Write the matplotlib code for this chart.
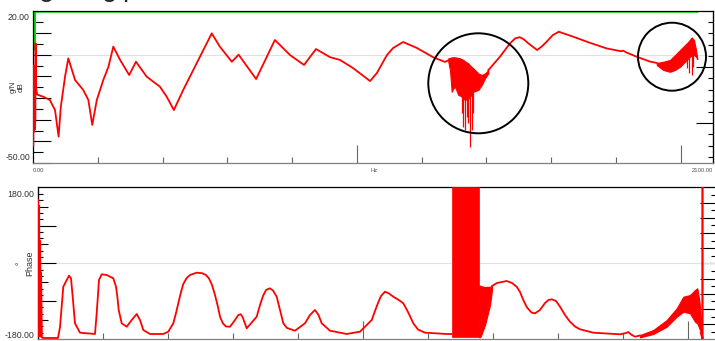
import numpy as np
import matplotlib
matplotlib.use('Agg')
import matplotlib.pyplot as plt
from matplotlib.patches import Ellipse

plt.rcParams['font.family'] = ['Liberation Sans', 'DejaVu Sans']

# ---------------- data ----------------
# magnitude (dB re g/N) vs frequency (Hz)
mag1_f = [1, 2, 3, 4, 5, 6, 7, 8, 9, 10, 13, 16, 32, 52, 68, 79, 86, 99, 109,
          130, 155, 171, 183, 197, 217, 233, 248, 269, 297, 318, 351, 392, 413,
          435, 464, 495, 521, 552, 577, 614, 635, 689, 747, 794, 837, 874, 917,
          948, 988, 1041, 1062, 1093, 1112, 1143, 1186, 1235, 1272, 1282.5]
mag1_db = [-44, -4, -37, -6, -36, -8, -32, 7, -10, -16, -18.5, -18.7, -19.6,
           -21.2, -26.2, -39.4, -24.5, -9.6, -0.5, -11.3, -16.2, -21.2, -33.6,
           -21.2, -11.3, -4.7, 5.3, -1.3, -8.8, -2.2, -9.6, -14.6, -19.6, -26.2,
           -16.2, -6.3, 2.0, 11.9, 5.3, -2.2, 1.3, -10.8, 8.6, 1.1, -3.8, 4.1,
           0.1, -1.3, -5.3, -11.8, -7.8, 1.1, 4.6, 7.6, 4.6, 0.1, -2.3, -1.5]

band1_f = [1282.5, 1287.8, 1293, 1298, 1303.2, 1313.4, 1318.7, 1323.9, 1328.9,
           1334.1, 1344.3, 1349.5, 1359.7, 1375.2, 1385.7, 1395.9, 1406.1]
band1_hi = [-0.5, -0.3, 0.0, 0.0, 0.0, -0.3, -0.5, -0.9, -1.3, -2.0, -3.0,
            -4.0, -5.5, -8.0, -8.8, -8.0, -6.3]
band1_lo = [-2.2, -6.3, -17.1, -15.5, -14.6, -18.7, -19.0, -19.6, -20.5,
            -21.2, -20.5, -19.6, -17.1, -16.2, -13.8, -10.4, -8.0]
spike1_f = [1323.9, 1328.9, 1334.1, 1339.3, 1344.3, 1349.5, 1354.7, 1359.7]
spike1_db = [-27.8, -34.5, -36.1, -29.5, -32.8, -44.4, -36.1, -27.8]

mag2_f = [1406.1, 1411, 1442, 1473, 1489, 1503, 1515, 1530, 1557, 1572, 1586,
          1605, 1624, 1669, 1720, 1772, 1816, 1823, 1830, 1864, 1905, 1926.1]
mag2_db = [-6.3, -5.5, 0.3, 6.9, 9.4, 10.0, 9.0, 6.9, 3.6, 5.5, 7.7, 11.0,
           12.7, 10.2, 7.2, 4.4, 3.0, 3.3, 2.6, 0.3, -2.1, -2.8]

band2_f = [1926.1, 1946.5, 1967.2, 1982.6, 1998.1, 2013.5, 2023.7, 2034.2,
           2041.3, 2047.5, 2051.5]
band2_hi = [-2.8, -2.2, -1.3, 1.1, 3.6, 6.1, 7.7, 9.9, 8.6, 3.6, -0.5]
band2_lo = [-3.8, -6.3, -7.2, -6.3, -4.7, -2.2, -0.5, 1.1, 1.1, 0.3, -0.9]
spike2_f = [2018.6, 2026.7, 2034.2, 2039.0]
spike2_db = [-5.5, -8.0, -8.8, -4.7]

coh_f = [1.5, 2.5, 4, 5.5, 7, 2052]
coh_db = [22.6, 3.6, 22.6, 3.6, 22.6, 22.6]

# phase (deg) vs frequency (Hz)
ph1_f = [0.5, 2, 3.5, 5, 6.5, 8, 9.5, 12, 15.4, 61.5, 67.7, 77.8, 83.1, 95.4,
         101.5, 107.7, 113.8, 129.2, 175.4, 180.6, 187.7, 196.0, 211.4, 231.7,
         240.0, 244.6, 248.3, 257.5, 272.9, 288.3, 303.7, 313.8, 324.0, 344.6,
         385.5, 400.9, 416.3, 424.6, 431.7, 440.0, 447.1, 457.5, 467.7, 488.3,
         504.6, 516.9, 526.2, 535.4, 544.6, 553.8, 560.0, 569.2, 578.5, 590.8,
         606.2, 616.3, 624, 630, 642.2, 672.9, 683.1, 692.3, 701.5, 713.8,
         723.1, 734.5, 744.6, 754.8, 766.2, 775.4, 790.8, 821.5, 836.9, 852.3,
         863.1, 872.9, 898.5, 949.8, 990.8, 1026.8, 1036.9, 1046.1, 1055.4,
         1067.7, 1080.0, 1093.2, 1107.7, 1124.0, 1138.5, 1154.8, 1169.2,
         1190.8, 1257.5, 1272.9]
ph1_deg = [165, -184, 150, -180, 60, -184, -20, -186, -187.6, -187.6, -160,
           -56.7, -48, -28.6, -35.2, -90.6, -150.1, -174.1, -177.4, -124.6,
           -39.6, -25.0, -26.8, -35.2, -56.7, -85.5, -116.1, -150.1, -158.8,
           -141.7, -126.4, -141.7, -167.2, -177.4, -177.4, -171.5, -150.1,
           -123.8, -99.0, -70.2, -49.8, -34.5, -26.8, -20.9, -22.2, -26.8,
           -35.7, -52.3, -77.9, -108.5, -133.3, -150.6, -158.3, -158.8, -141.7,
           -128.9, -127, -135, -162.9, -133.3, -103.4, -80.4, -65.1, -60.7,
           -66.4, -82.2, -116.1, -150.1, -162.1, -164.7, -169.0, -150.1,
           -128.9, -116.1, -128.9, -150.1, -169.0, -177.4, -171.5, -141.7,
           -118.7, -98.3, -80.4, -69.4, -74.0, -82.2, -89.3, -99.0, -121.3,
           -150.1, -165.9, -174.1, -177.4, -177.4]

phA_f = [1272.9, 1357.8]
phA_hi = [199, 199]
phA_lo = [-186, -186]

phB_f = [1357.8, 1362, 1375.4, 1390.8, 1396.9]
phB_hi = [-53, -55, -57.4, -56.7, -55]
phB_lo = [-186, -184, -154.4, -103.4, -65]

ph2_f = [1396.9, 1412.3, 1442.2, 1458.5, 1472.9, 1483.1, 1493.2, 1504.6,
         1519.1, 1529.2, 1544.6, 1560.0, 1570.8, 1580.6, 1593.8, 1606.2,
         1621.5, 1636.9, 1652.3, 1667.7, 1708.6, 1790.8, 1809.2, 1816.3,
         1824.6, 1836.9, 1852.3]
ph2_deg = [-55, -47.2, -42.1, -47.2, -56.7, -70.2, -90.6, -109.8, -123.0,
           -124.6, -116.1, -98.3, -90.6, -88.8, -93.2, -107.7, -128.9, -146.0,
           -158.3, -165.4, -174.1, -178.2, -174.9, -172.3, -178.7, -184.3,
           -181.2]

phC_f = [1852.3, 1893.2, 1934.5, 1965.2, 1985.5, 2006.1, 2021.5, 2028.6,
         2034.8, 2040.0]
phC_hi = [-180, -167.2, -141.7, -111.8, -82.2, -77.9, -65.1, -60.7, -90.6, -141.7]
phC_lo = [-186, -177.4, -158.8, -133.3, -120.5, -124.6, -146.0, -150.1, -162.9, -174.9]

ph3_f = [2040.0, 2044.6, 2044.6]
ph3_deg = [-174.9, -189, 199]

# ---------------- figure ----------------
W, H = 715, 341
fig = plt.figure(figsize=(W / 100, H / 100), dpi=100)


def px_axes(l, t, r, b):
    return fig.add_axes([l / W, 1 - b / H, (r - l) / W, (b - t) / H])


RED = '#ff0000'
GREEN = '#00e000'
GRID = '#e2e2e2'
TXT = '#333333'

ax1 = px_axes(33, 11, 713, 163)
ax2 = px_axes(38, 187, 720.5, 339)

for ax in (ax1, ax2):
    for s in ('left', 'top', 'right'):
        ax.spines[s].set_color('black')
        ax.spines[s].set_linewidth(0.9)
    ax.spines['bottom'].set_color('#808080')
    ax.spines['bottom'].set_linewidth(0.9)
    ax.set_xlim(0, 2100)
    ax.set_xticks([1000, 2000])
    ax.set_xticks([200, 400, 600, 800, 1200, 1400, 1600, 1800], minor=True)
    ax.tick_params(axis='x', which='both', direction='in', labelbottom=False,
                   color='#666666', width=0.8)
    ax.tick_params(axis='x', which='major', length=13.2)
    ax.tick_params(axis='x', which='minor', length=4.0)

# ---- top panel: magnitude ----
ax1.set_ylim(-52.5, 23.0)
ax1.axhline(1.15, color=GRID, lw=0.8, zorder=0.5)
ax1.plot(coh_f, coh_db, color=GREEN, lw=1.3, zorder=2)
ax1.plot(mag1_f, mag1_db, color=RED, lw=1.3, zorder=3, solid_joinstyle='round')
ax1.fill_between(band1_f, band1_lo, band1_hi, color=RED, lw=0.8, zorder=3)
ax1.vlines(spike1_f, spike1_db, -15, color=RED, lw=0.9, zorder=3)
ax1.plot(mag2_f, mag2_db, color=RED, lw=1.3, zorder=3, solid_joinstyle='round')
ax1.fill_between(band2_f, band2_lo, band2_hi, color=RED, lw=0.8, zorder=3)
ax1.vlines(spike2_f, spike2_db, 1.0, color=RED, lw=0.9, zorder=3)

tl = np.linspace(17.4, -47.2, 13)
ax1.set_yticks(list(tl[1::2]) + [-52.3])
ax1.set_yticks(tl[0::2], minor=True)
ax1.tick_params(axis='y', which='both', direction='in', labelleft=False,
                color='black', width=0.8)
ax1.tick_params(axis='y', which='major', length=13.2)
ax1.tick_params(axis='y', which='minor', length=7.2)

tr = np.linspace(17.4, -49.4, 13)
sec1 = ax1.secondary_yaxis('right')
sec1.set_ticks([tr[4], tr[9]])
sec1.set_ticks([v for i, v in enumerate(tr) if i not in (4, 9)], minor=True)
sec1.tick_params(axis='y', which='both', direction='in', labelright=False,
                 labelleft=False, color='black', width=0.8)
sec1.tick_params(axis='y', which='major', length=12.2)
sec1.tick_params(axis='y', which='minor', length=3.6)

yt1 = ax1.get_yaxis_transform()
ax1.text(-0.0045, 20, '20.00', transform=yt1, ha='right', va='center',
         fontsize=6.3, color=TXT)
ax1.text(-0.0045, -50, '-50.00', transform=yt1, ha='right', va='center',
         fontsize=6.3, color=TXT)

fig.text(33 / W, 1 - 170 / H, '0.00', ha='left', va='center', fontsize=4.2, color='#555555')
fig.text(374 / W, 1 - 170 / H, 'Hz', ha='center', va='center', fontsize=4.2, color='#555555')
fig.text(713 / W, 1 - 170 / H, '2100.00', ha='right', va='center', fontsize=4.2, color='#555555')

fig.text(13.0 / W, 1 - 87 / H, 'g/N', rotation=90, ha='center', va='center',
         fontsize=5.8, color=TXT)
fig.text(21.5 / W, 1 - 87 / H, 'dB', rotation=90, ha='center', va='center',
         fontsize=5.8, color=TXT)

# ---- bottom panel: phase ----
ax2.set_ylim(-190.2, 197.9)
ax2.axhline(3.0, color=GRID, lw=0.8, zorder=0.5)
ax2.plot(ph1_f, ph1_deg, color=RED, lw=1.3, zorder=3, solid_joinstyle='round')
ax2.fill_between(phA_f, phA_lo, phA_hi, color=RED, lw=0.5, zorder=3)
ax2.fill_between(phB_f, phB_lo, phB_hi, color=RED, lw=0.8, zorder=3)
ax2.plot(ph2_f, ph2_deg, color=RED, lw=1.3, zorder=3, solid_joinstyle='round')
ax2.fill_between(phC_f, phC_lo, phC_hi, color=RED, lw=0.8, zorder=3)
ax2.plot(ph3_f, ph3_deg, color=RED, lw=1.6, zorder=3)

bl = np.linspace(180, -174, 23)
long_i = (5, 11, 17)
med_i = (2, 8, 14, 20)
ax2.set_yticks([bl[i] for i in long_i])
ax2.set_yticks([v for i, v in enumerate(bl) if i not in long_i + med_i], minor=True)
ax2.tick_params(axis='y', which='both', direction='in', labelleft=False,
                color='black', width=0.8)
ax2.tick_params(axis='y', which='major', length=13.0)
ax2.tick_params(axis='y', which='minor', length=3.6)

sec2l = ax2.secondary_yaxis('left')
sec2l.set_ticks([bl[i] for i in med_i])
sec2l.tick_params(axis='y', which='both', direction='in', labelleft=False,
                  labelright=False, color='black', width=0.8, length=7.2)
sec2l.tick_params(axis='y', which='minor', length=0)

br = np.linspace(177.4, -171.6, 19)
sec2r = ax2.secondary_yaxis('right')
sec2r.set_ticks(br[1::2])
sec2r.set_ticks(br[0::2], minor=True)
sec2r.tick_params(axis='y', which='both', direction='in', labelright=False,
                  labelleft=False, color='black', width=0.8)
sec2r.tick_params(axis='y', which='major', length=14.8)
sec2r.tick_params(axis='y', which='minor', length=7.5)

yt2 = ax2.get_yaxis_transform()
ax2.text(-0.005, 180, '180.00', transform=yt2, ha='right', va='center',
         fontsize=6.3, color=TXT)
ax2.text(-0.005, -180, '-180.00', transform=yt2, ha='right', va='center',
         fontsize=6.3, color=TXT)

fig.text(20.5 / W, 1 - 263 / H, '°', rotation=90, ha='center', va='center',
         fontsize=6.5, color=TXT)
fig.text(30 / W, 1 - 263 / H, 'Phase', rotation=90, ha='center', va='center',
         fontsize=6.5, color=TXT)

# ---- clipped title text at the very top ----
for ch, xp in (('g', 39), ('g', 102), ('p', 122)):
    fig.text(xp / W, 1 + 3.5 / H, ch, ha='left', va='baseline', fontsize=20,
             color='#222222')

# ---- annotation circles ----
fig.add_artist(Ellipse((478.3 / W, 1 - 83.3 / H), 100 / W, 100 / H,
                       transform=fig.transFigure, fill=False, ec='black', lw=1.4, zorder=10))
fig.add_artist(Ellipse((672 / W, 1 - 56.7 / H), 68 / W, 68 / H,
                       transform=fig.transFigure, fill=False, ec='black', lw=1.4, zorder=10))

fig.savefig('out.png', dpi=100)
